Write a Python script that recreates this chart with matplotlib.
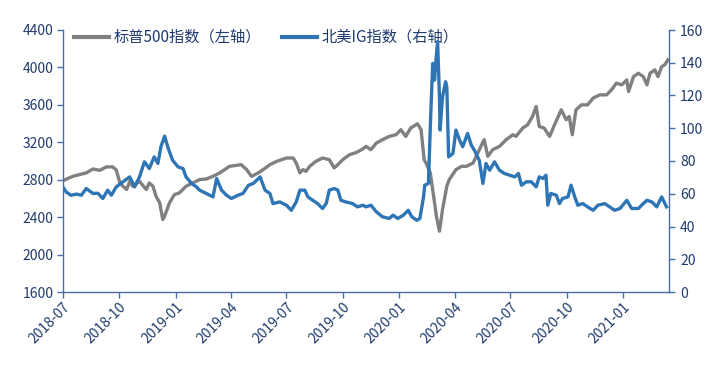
import matplotlib
matplotlib.use('Agg')
import matplotlib.pyplot as plt
import pandas as pd
from matplotlib.lines import Line2D

plt.rcParams['font.family'] = ['Noto Sans CJK SC', 'DejaVu Sans']

# ---- data ----
sp_dates = [
    '2018-07-01', '2018-07-17', '2018-07-28', '2018-08-08', '2018-08-19', '2018-08-30',
    '2018-09-10', '2018-09-20', '2018-09-26', '2018-10-02', '2018-10-07', '2018-10-13',
    '2018-10-18', '2018-10-23', '2018-11-03', '2018-11-14', '2018-11-19', '2018-11-25',
    '2018-11-30', '2018-12-06', '2018-12-11', '2018-12-14', '2018-12-22', '2018-12-30',
    '2019-01-07', '2019-01-18', '2019-01-29', '2019-02-09', '2019-02-20', '2019-03-03',
    '2019-03-14', '2019-03-30', '2019-04-18', '2019-04-27', '2019-05-05', '2019-05-16',
    '2019-05-24', '2019-06-04', '2019-06-15', '2019-07-01', '2019-07-12', '2019-07-17',
    '2019-07-23', '2019-07-28', '2019-08-02', '2019-08-08', '2019-08-18', '2019-08-29',
    '2019-09-09', '2019-09-17', '2019-09-23', '2019-10-01', '2019-10-12', '2019-10-23',
    '2019-11-03', '2019-11-08', '2019-11-16', '2019-11-25', '2019-12-05', '2019-12-16',
    '2019-12-27', '2020-01-04', '2020-01-12', '2020-01-20', '2020-01-31', '2020-02-06',
    '2020-02-11', '2020-02-14', '2020-02-21', '2020-02-28', '2020-03-02', '2020-03-07',
    '2020-03-12', '2020-03-19', '2020-03-23', '2020-04-03', '2020-04-12', '2020-04-20',
    '2020-05-01', '2020-05-06', '2020-05-19', '2020-05-25', '2020-06-02', '2020-06-13',
    '2020-06-24', '2020-07-05', '2020-07-10', '2020-07-21', '2020-07-29', '2020-08-06',
    '2020-08-12', '2020-08-17', '2020-08-25', '2020-09-03', '2020-09-11', '2020-09-22',
    '2020-09-30', '2020-10-05', '2020-10-10', '2020-10-16', '2020-10-25', '2020-11-04',
    '2020-11-13', '2020-11-24', '2020-12-05', '2020-12-13', '2020-12-21', '2020-12-30',
    '2021-01-07', '2021-01-10', '2021-01-18', '2021-01-26', '2021-02-03', '2021-02-09',
    '2021-02-14', '2021-02-22', '2021-02-27', '2021-03-05', '2021-03-10', '2021-03-15',
]
sp_values = [
    2790, 2836, 2855, 2873, 2915, 2900,
    2937, 2937, 2905, 2766, 2730, 2695,
    2783, 2730, 2783, 2695, 2766, 2730,
    2623, 2553, 2375, 2410, 2553, 2641,
    2659, 2730, 2766, 2801, 2808, 2836,
    2873, 2943, 2961, 2908, 2836, 2873,
    2908, 2961, 2996, 3032, 3032, 2979,
    2873, 2908, 2890, 2943, 2996, 3032,
    3014, 2926, 2961, 3014, 3068, 3090,
    3130, 3156, 3121, 3192, 3228, 3263,
    3281, 3334, 3263, 3352, 3398, 3334,
    3014, 2979, 2873, 2553, 2410, 2250,
    2481, 2730, 2801, 2908, 2943, 2943,
    2979, 3050, 3228, 3050, 3121, 3156,
    3228, 3281, 3263, 3352, 3387, 3476,
    3583, 3369, 3352, 3263, 3387, 3547,
    3441, 3476, 3281, 3547, 3600, 3600,
    3672, 3707, 3707, 3760, 3832, 3814,
    3867, 3742, 3902, 3938, 3902, 3814,
    3938, 3974, 3902, 4009, 4027, 4080,
]

ig_dates = [
    '2018-07-01', '2018-07-06', '2018-07-14', '2018-07-23', '2018-07-31', '2018-08-08',
    '2018-08-19', '2018-08-27', '2018-09-04', '2018-09-12', '2018-09-18', '2018-09-26',
    '2018-10-07', '2018-10-18', '2018-10-26', '2018-11-03', '2018-11-11', '2018-11-19',
    '2018-11-27', '2018-12-03', '2018-12-08', '2018-12-14', '2018-12-19', '2018-12-27',
    '2019-01-05', '2019-01-13', '2019-01-18', '2019-01-27', '2019-02-04', '2019-02-09',
    '2019-02-20', '2019-03-03', '2019-03-09', '2019-03-17', '2019-03-25', '2019-04-02',
    '2019-04-13', '2019-04-21', '2019-04-30', '2019-05-08', '2019-05-19', '2019-05-27',
    '2019-06-04', '2019-06-09', '2019-06-20', '2019-07-01', '2019-07-09', '2019-07-17',
    '2019-07-23', '2019-07-31', '2019-08-05', '2019-08-13', '2019-08-21', '2019-08-29',
    '2019-09-04', '2019-09-09', '2019-09-17', '2019-09-23', '2019-09-28', '2019-10-06',
    '2019-10-17', '2019-10-25', '2019-11-03', '2019-11-08', '2019-11-16', '2019-11-25',
    '2019-12-05', '2019-12-16', '2019-12-22', '2019-12-30', '2020-01-08', '2020-01-16',
    '2020-01-22', '2020-01-30', '2020-02-04', '2020-02-10', '2020-02-12', '2020-02-18',
    '2020-02-22', '2020-02-25', '2020-02-28', '2020-03-01', '2020-03-04', '2020-03-07',
    '2020-03-08', '2020-03-12', '2020-03-17', '2020-03-19', '2020-03-22', '2020-03-29',
    '2020-04-03', '2020-04-09', '2020-04-14', '2020-04-22', '2020-04-28', '2020-05-03',
    '2020-05-11', '2020-05-17', '2020-05-22', '2020-05-28', '2020-06-05', '2020-06-13',
    '2020-06-21', '2020-06-30', '2020-07-08', '2020-07-14', '2020-07-19', '2020-07-27',
    '2020-08-04', '2020-08-12', '2020-08-17', '2020-08-23', '2020-08-28', '2020-08-31',
    '2020-09-05', '2020-09-14', '2020-09-19', '2020-09-24', '2020-10-03', '2020-10-08',
    '2020-10-14', '2020-10-19', '2020-10-27', '2020-11-04', '2020-11-13', '2020-11-21',
    '2020-12-02', '2020-12-10', '2020-12-18', '2020-12-27', '2021-01-07', '2021-01-15',
    '2021-01-26', '2021-02-03', '2021-02-09', '2021-02-17', '2021-02-25', '2021-03-05',
    '2021-03-13',
]
ig_values = [
    64.0, 61.1, 59.1, 59.8, 59.1, 63.2,
    60.2, 60.3, 57.1, 62.2, 59.1, 64.2,
    67.3, 70.3, 64.2, 70.3, 79.5, 75.4,
    82.5, 78.5, 88.7, 95.2, 88.7, 80.5,
    76.4, 75.4, 70.3, 66.3, 64.2, 62.2,
    60.2, 58.1, 69.3, 62.2, 59.1, 57.1,
    59.1, 60.2, 65.2, 66.3, 70.3, 62.2,
    60.2, 54.0, 55.0, 53.0, 49.9, 55.0,
    62.2, 62.2, 58.1, 56.0, 54.0, 51.0,
    54.0, 62.2, 63.2, 62.2, 56.0, 55.0,
    54.0, 52.0, 53.0, 52.0, 53.0, 48.9,
    45.9, 44.9, 46.9, 44.9, 46.9, 49.9,
    45.9, 43.8, 44.9, 58.1, 65.2, 66.3,
    111.1, 139.6, 129.4, 140.6, 152.9, 119.2,
    98.9, 119.2, 128.4, 125.3, 82.5, 84.6,
    98.9, 92.7, 88.7, 96.8, 89.7, 86.6,
    80.5, 66.3, 78.5, 74.4, 79.5, 74.4,
    72.4, 71.3, 70.3, 72.4, 65.2, 67.3,
    67.3, 64.2, 70.3, 69.3, 71.3, 53.0,
    60.2, 59.1, 54.0, 57.1, 58.1, 65.2,
    58.1, 53.0, 54.0, 52.0, 49.9, 53.0,
    54.0, 52.0, 49.9, 51.0, 56.0, 51.0,
    51.0, 54.0, 56.0, 55.0, 52.0, 58.1,
    52.0,
]

left_ticks = [1600, 2000, 2400, 2800, 3200, 3600, 4000, 4400]
right_ticks = [0, 20, 40, 60, 80, 100, 120, 140, 160]
x_tick_labels = ['2018-07', '2018-10', '2019-01', '2019-04', '2019-07', '2019-10',
                 '2020-01', '2020-04', '2020-07', '2020-10', '2021-01']
sp_label = '标普500指数（左轴）'
ig_label = '北美IG指数（右轴）'

# ---- style ----
grey = '#808080'
blue = '#2E75B6'
spine_c = '#4A6DA8'
text_c = '#1F3A6E'

W, H = 726, 387
fig = plt.figure(figsize=(W / 100, H / 100), dpi=100)
ax = fig.add_axes([63 / W, 1 - 292 / H, (669 - 63) / W, (292 - 30) / H])
ax2 = ax.twinx()

sp_x = pd.to_datetime(sp_dates)
ig_x = pd.to_datetime(ig_dates)
ax.plot(sp_x, sp_values, color=grey, lw=2.4, solid_joinstyle='round')
ax2.plot(ig_x, ig_values, color=blue, lw=2.4, solid_joinstyle='round')

ax.set_xlim(pd.Timestamp('2018-07-01'), pd.Timestamp('2021-03-17'))
ax.set_ylim(1600, 4400)
ax2.set_ylim(0, 160)
ax.set_yticks(left_ticks)
ax2.set_yticks(right_ticks)
ax.set_xticks(pd.to_datetime([s + '-01' for s in x_tick_labels]))
ax.set_xticklabels(x_tick_labels, rotation=45, ha='right', va='top',
                   rotation_mode='anchor')

for a in (ax, ax2):
    a.spines['top'].set_visible(False)
    for s in ('left', 'right', 'bottom'):
        a.spines[s].set_color(spine_c)
        a.spines[s].set_linewidth(1.0)
    a.tick_params(axis='both', colors=spine_c, labelcolor=text_c,
                  labelsize=10, direction='out', length=4, width=1.0)
ax.tick_params(axis='y', pad=3)
ax2.tick_params(axis='y', pad=4)
ax.tick_params(axis='x', pad=2)
ax.spines['right'].set_visible(False)
ax2.spines['left'].set_visible(False)
ax2.spines['bottom'].set_visible(False)

handles = [Line2D([], [], color=grey, lw=3.0), Line2D([], [], color=blue, lw=3.0)]
leg = ax.legend(handles, [sp_label, ig_label], ncol=2, frameon=False,
                loc='upper left', bbox_to_anchor=(0.0, 1.045),
                fontsize=11, handlelength=2.3, handletextpad=0.3,
                columnspacing=1.4, borderaxespad=0.3)
for t in leg.get_texts():
    t.set_color(text_c)
leg.set_zorder(10)

fig.savefig('out.png', dpi=100)
